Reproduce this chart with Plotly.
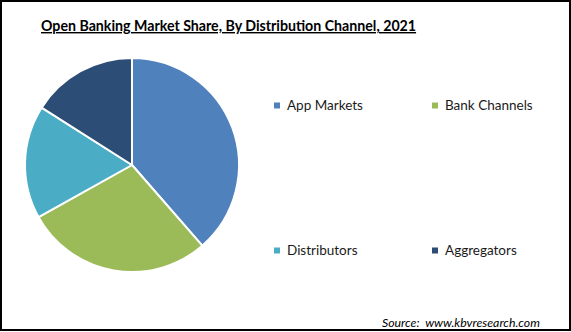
import plotly.graph_objects as go

W, H = 571, 332

categories = ["App Markets", "Bank Channels", "Distributors", "Aggregators"]
shares = [38.6, 28.3, 17.1, 16.0]
colors = ["#4F81BD", "#9BBB59", "#4BACC6", "#2C4D75"]

title_text = "Open Banking Market Share, By Distribution Channel, 2021"
source_text = "Source:  www.kbvresearch.com"

def px(x):
    return x / W

def py(y):
    return 1 - y / H

cx, cy, r = 132, 165, 107

fig = go.Figure(go.Pie(
    labels=categories,
    values=shares,
    sort=False,
    direction="clockwise",
    rotation=0,
    marker=dict(colors=colors, line=dict(color="white", width=2)),
    textinfo="none",
    hoverinfo="label+percent",
    showlegend=False,
    domain=dict(x=[px(cx - r), px(cx + r)], y=[py(cy + r), py(cy - r)]),
))

annotations = [
    dict(text="<b><u>" + title_text + "</u></b>", x=px(39), y=py(26), xref="paper", yref="paper",
         xanchor="left", yanchor="middle", showarrow=False,
         font=dict(family="Lato", size=14.2, color="#000000")),
    dict(text="<i>" + source_text + "</i>", x=px(380), y=py(322), xref="paper", yref="paper",
         xanchor="left", yanchor="middle", showarrow=False,
         font=dict(family="Lato", size=12.3, color="#000000")),
]
shapes = [
    dict(type="rect", xref="paper", yref="paper", x0=px(1), x1=px(570), y0=py(1), y1=py(330),
         line=dict(color="#000000", width=2), fillcolor="rgba(0,0,0,0)"),
]

leg_cols = [274, 432]
leg_rows = [105.5, 250.5]
for i, (lab, col) in enumerate(zip(categories, colors)):
    lx = leg_cols[i % 2]
    ly = leg_rows[i // 2]
    shapes.append(dict(type="rect", xref="paper", yref="paper",
                       x0=px(lx), x1=px(lx + 6), y0=py(ly + 3), y1=py(ly - 3),
                       fillcolor=col, line=dict(width=0)))
    annotations.append(dict(text=lab, x=px(lx + 11), y=py(ly), xref="paper", yref="paper",
                            xanchor="left", yanchor="middle", showarrow=False,
                            font=dict(family="Lato", size=13.5, color="#1a1a1a")))

fig.update_layout(
    width=W, height=H,
    margin=dict(l=0, r=0, t=0, b=0),
    paper_bgcolor="white",
    plot_bgcolor="white",
    annotations=annotations,
    shapes=shapes,
)

fig.write_html("out.html")
